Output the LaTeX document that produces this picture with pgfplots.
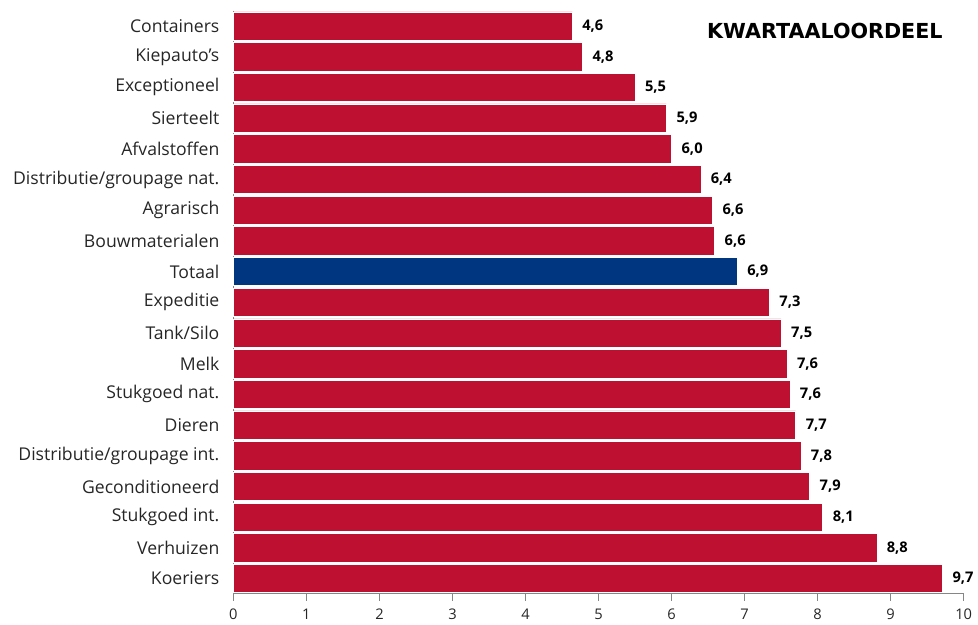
\documentclass[border=0pt]{standalone}
\usepackage{pgfplots}
\pgfplotsset{compat=1.18}
\usepackage{fontspec}
\setmainfont{Open Sans}
\newfontfamily\titlefont{DejaVu Sans}
\definecolor{barred}{HTML}{BE1030}
\definecolor{barblue}{HTML}{00367F}
\definecolor{axgray}{HTML}{868686}
\begin{document}
\begin{tikzpicture}
\begin{axis}[
  name=main,
  scale only axis,
  width=547.5pt, height=437.25pt,
  xbar, bar shift=0pt, bar width=0.92,
  xmin=0, xmax=10,
  ymin=-0.5, ymax=18.5,
  y dir=reverse,
  axis x line*=bottom, axis y line*=left,
  axis line style={axgray, line width=0.8pt},
  xtick={0,...,10},
  ytick={0,...,18},
  yticklabels={Containers,Kiepauto's,Exceptioneel,Sierteelt,Afvalstoffen,Distributie/groupage nat.,Agrarisch,Bouwmaterialen,Totaal,Expeditie,Tank/Silo,Melk,Stukgoed nat.,Dieren,Distributie/groupage int.,Geconditioneerd,Stukgoed int.,Verhuizen,Koeriers},
  minor ytick={-0.5,0.5,...,18.5},
  tick align=outside,
  ytick style={draw=none},
  minor y tick style={axgray, line width=0.8pt},
  minor tick length=5pt,
  xtick style={axgray, line width=0.8pt},
  major tick length=5pt,
  yticklabel style={font=\fontsize{13.2}{15}\selectfont, text=black!85, xshift=-2pt},
  xticklabel style={font=\fontsize{11}{13}\selectfont, text=black!85, yshift=-3pt},
  /pgf/number format/assume math mode=true,
  nodes near coords,
  nodes near coords style={font=\bfseries\fontsize{11}{13}\selectfont, text=black, anchor=west, xshift=4pt,
    /pgf/number format/.cd, fixed, fixed zerofill, precision=1, use comma},
  clip=false,
]
\addplot[fill=barred, draw=white, line width=0.4pt] coordinates {
(4.64,0) (4.78,1) (5.50,2) (5.93,3) (6.00,4) (6.40,5) (6.56,6) (6.59,7)
(7.34,9) (7.50,10) (7.58,11) (7.62,12) (7.70,13) (7.77,14) (7.89,15) (8.07,16) (8.81,17) (9.71,18)};
\addplot[fill=barblue, draw=white, line width=0.4pt] coordinates {(6.90,8)};
\node[font=\titlefont\bfseries\fontsize{15.5}{17}\selectfont, anchor=center] at (axis cs:8.1,0.15) {KWARTAALOORDEEL};
\end{axis}
\path (main.north west) ++(-175pt,8pt) coordinate (topleftmargin);
\path (topleftmargin) rectangle (main.north west);
\end{tikzpicture}
\end{document}
